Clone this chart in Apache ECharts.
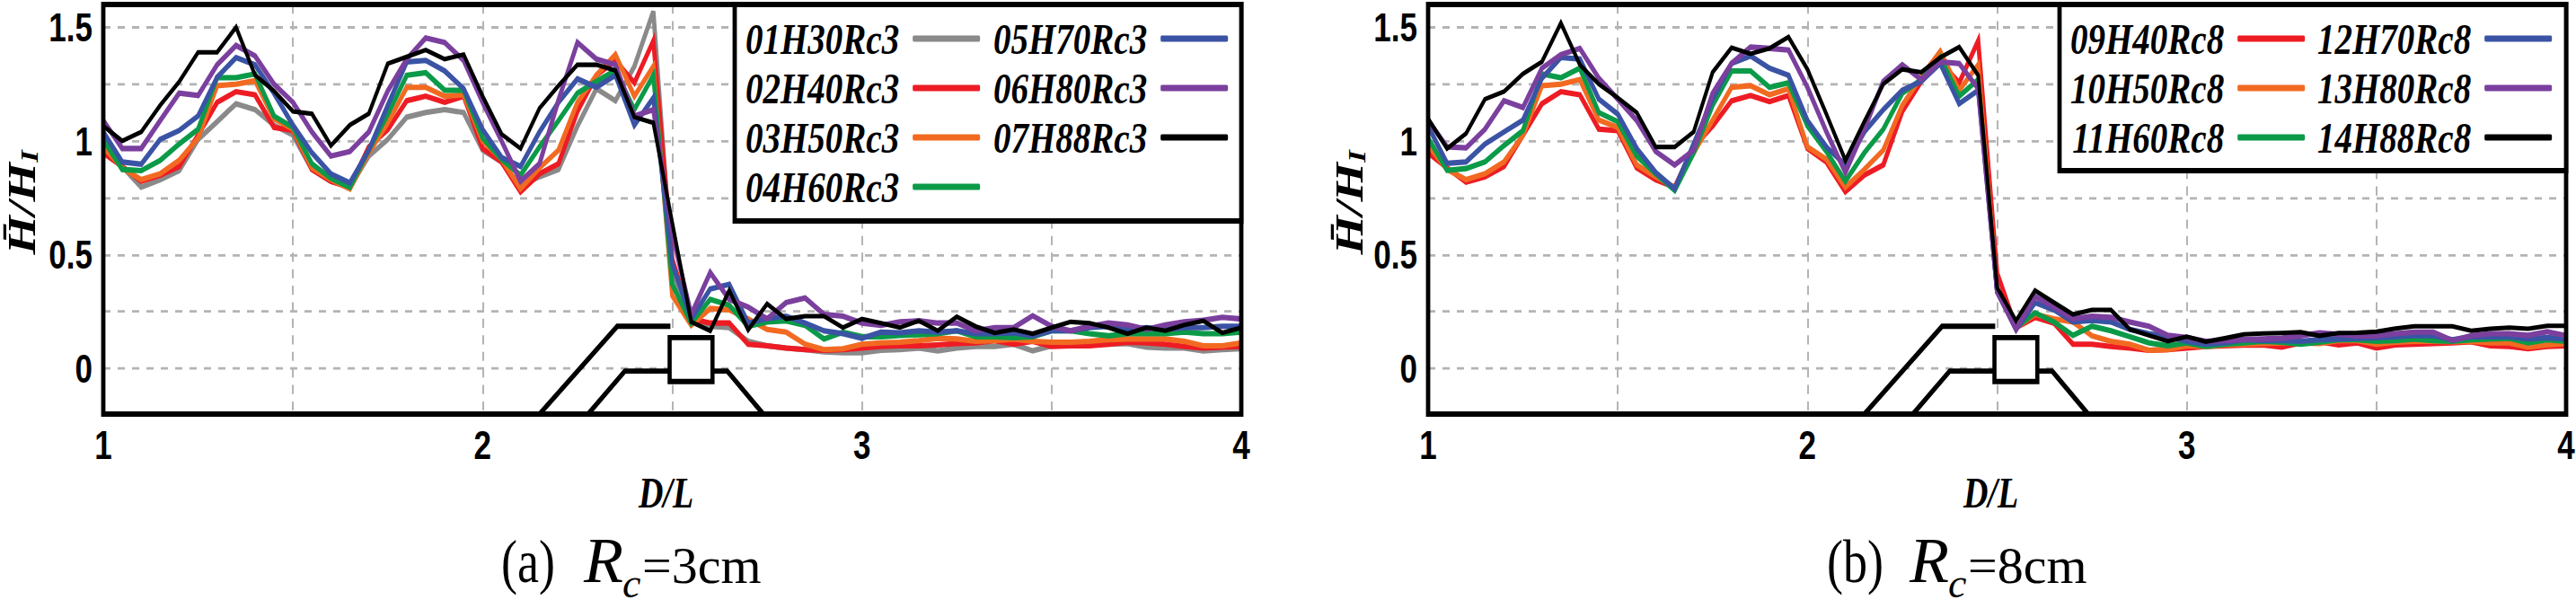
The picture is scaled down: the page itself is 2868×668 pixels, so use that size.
<!DOCTYPE html>
<html>
<head>
<meta charset="utf-8">
<title>H/HI along D/L</title>
<script src="https://cdn.jsdelivr.net/npm/echarts@6/dist/echarts.min.js"></script>
<style>
html,body{margin:0;padding:0;background:#fff;overflow:hidden;}
/* the figure is stretched vertically in the paper, text and lines alike */
#main{position:absolute;left:0;top:0;width:2868px;height:526px;transform:scale(1,1.26996);transform-origin:0 0;}
</style>
</head>
<body>
<div id="main"></div>
<script type="text/javascript">
var dL = [1,1.05,1.1,1.15,1.2,1.25,1.3,1.35,1.4,1.45,1.5,1.55,1.6,1.65,1.7,1.75,1.8,1.85,1.9,1.95,
  2,2.05,2.1,2.15,2.2,2.25,2.3,2.35,2.4,2.45,2.5,2.55,2.6,2.65,2.7,2.75,2.8,2.85,2.9,2.95,
  3,3.05,3.1,3.15,3.2,3.25,3.3,3.35,3.4,3.45,3.5,3.55,3.6,3.65,3.7,3.75,3.8,3.85,3.9,3.95,4];

// panel (a) Rc=3cm
var h30rc3 = [.948,.888,.797,.83,.87,1.007,1.085,1.164,1.138,1.07,1.026,.875,.823,.797,.934,1.007,1.105,1.125,1.138,1.125,.96,.908,.803,.843,.875,1.066,1.23,1.177,1.328,1.57,.42,.218,.186,.18,.12,.1,.09,.083,.074,.07,.07,.08,.083,.09,.078,.09,.097,.097,.107,.078,.1,.1,.107,.107,.11,.094,.09,.09,.078,.083,.087];
var h40rc3 = [.948,.888,.823,.85,.888,1.026,1.17,1.217,1.203,1.06,1.046,.875,.823,.797,.974,1.05,1.177,1.197,1.17,1.197,.967,.908,.777,.856,.9,1.13,1.289,1.354,1.256,1.44,.48,.218,.2,.2,.107,.1,.09,.083,.08,.083,.09,.097,.1,.1,.104,.11,.113,.123,.107,.12,.097,.1,.1,.107,.116,.113,.107,.097,.09,.094,.097];
var h50rc3 = [.974,.882,.83,.856,.915,1.013,1.243,1.25,1.265,1.098,1.052,.882,.83,.79,.948,1.08,1.236,1.236,1.197,1.203,1,.92,.79,.882,.96,1.17,1.289,1.38,1.197,1.328,.32,.19,.264,.258,.218,.172,.16,.107,.083,.087,.107,.113,.116,.123,.133,.13,.12,.123,.13,.12,.116,.116,.12,.127,.13,.13,.13,.12,.1,.1,.113];
var h60rc3 = [1.007,.875,.87,.915,.987,1.052,1.278,1.278,1.295,1.11,1.06,.9,.836,.797,.96,1.118,1.289,1.3,1.223,1.223,1.013,.92,.85,.974,1.09,1.21,1.262,1.31,1.138,1.289,.37,.2,.304,.278,.186,.205,.21,.19,.13,.16,.14,.14,.146,.149,.153,.166,.14,.14,.136,.14,.166,.166,.153,.144,.153,.153,.153,.16,.153,.153,.16];
var h70rc3 = [1.04,.908,.898,1.007,1.046,1.11,1.28,1.367,1.335,1.21,1.07,.948,.856,.816,.96,1.157,1.348,1.354,1.308,1.23,1.05,.928,.888,1.04,1.17,1.273,1.236,1.289,1.07,1.19,.46,.218,.35,.37,.2,.22,.23,.2,.166,.153,.133,.16,.157,.166,.16,.166,.153,.153,.157,.144,.166,.166,.18,.186,.172,.18,.172,.18,.18,.186,.186];
var h80rc3 = [1.09,.967,.967,1.09,1.21,1.2,1.335,1.42,1.374,1.25,1.17,1.04,.934,.954,1.04,1.22,1.36,1.453,1.433,1.354,1.17,1,.823,.9,1.18,1.433,1.36,1.335,1.11,1.138,.59,.238,.422,.304,.27,.218,.29,.31,.238,.23,.2,.19,.205,.21,.2,.2,.166,.18,.18,.232,.186,.166,.186,.2,.192,.172,.192,.205,.212,.225,.218];
var h88rc3 = [1.066,1,1.04,1.157,1.26,1.39,1.39,1.5,1.29,1.22,1.13,1.12,.98,1.07,1.12,1.34,1.37,1.4,1.36,1.38,1.197,1.03,.967,1.144,1.243,1.335,1.335,1.31,1.105,1.08,.64,.205,.166,.343,.17,.284,.218,.23,.23,.18,.218,.2,.18,.21,.166,.228,.185,.157,.172,.153,.18,.205,.2,.18,.153,.18,.166,.192,.21,.157,.18];

// panel (b) Rc=8cm
var h40rc8 = [.948,.882,.819,.843,.888,1.026,1.164,1.217,1.203,1.052,1.046,.882,.83,.797,.974,1.066,1.177,1.2,1.173,1.2,.967,.908,.777,.85,.895,1.13,1.262,1.348,1.256,1.44,.42,.18,.225,.2,.107,.107,.097,.09,.08,.083,.09,.097,.1,.103,.104,.094,.113,.118,.104,.113,.09,.104,.107,.11,.113,.118,.1,.097,.087,.097,.1];
var h50rc8 = [.98,.875,.83,.856,.908,1.026,1.243,1.25,1.27,1.092,1.06,.895,.843,.797,.948,1.092,1.236,1.243,1.203,1.23,.974,.92,.797,.875,.96,1.157,1.282,1.394,1.223,1.335,.34,.18,.238,.218,.205,.144,.12,.107,.08,.083,.1,.097,.104,.107,.11,.113,.113,.11,.123,.123,.107,.116,.12,.12,.118,.12,.113,.113,.094,.104,.11];
var h60rc8 = [1.013,.871,.879,.908,.98,1.046,1.295,1.278,1.32,1.125,1.085,.934,.856,.783,.948,1.157,1.308,1.308,1.236,1.256,1.066,.954,.823,.948,1.052,1.21,1.27,1.367,1.197,1.27,.337,.18,.245,.205,.146,.186,.166,.14,.113,.1,.113,.097,.107,.113,.12,.116,.107,.116,.127,.127,.12,.123,.13,.123,.12,.127,.13,.133,.113,.127,.12];
var h70rc8 = [1.066,.902,.908,.987,1.04,1.092,1.276,1.367,1.36,1.184,1.118,.967,.862,.79,.987,1.184,1.341,1.374,1.32,1.289,1.09,.974,.895,1.04,1.138,1.223,1.262,1.341,1.164,1.223,.337,.172,.29,.258,.205,.212,.205,.172,.153,.14,.12,.107,.113,.127,.123,.123,.12,.127,.13,.133,.136,.14,.146,.144,.127,.14,.14,.14,.13,.136,.13];
var h80rc8 = [1.09,.974,.97,1.052,1.177,1.147,1.32,1.38,1.407,1.276,1.184,1.09,.954,.895,.96,1.21,1.341,1.413,1.407,1.4,1.236,1.04,.862,1.052,1.262,1.335,1.27,1.348,1.341,1.23,.337,.172,.317,.27,.218,.23,.225,.205,.186,.146,.136,.12,.123,.127,.13,.133,.144,.157,.15,.144,.144,.153,.16,.16,.123,.144,.153,.153,.146,.162,.144];
var h88rc8 = [1.098,.967,1.033,1.184,1.217,1.295,1.348,1.518,1.335,1.25,1.19,1.125,.974,.974,1.04,1.302,1.41,1.383,1.407,1.457,1.315,1.118,.915,1.085,1.25,1.315,1.302,1.367,1.413,1.289,.356,.21,.343,.29,.238,.258,.258,.172,.146,.12,.14,.118,.133,.15,.154,.156,.16,.144,.156,.157,.162,.176,.186,.186,.186,.166,.175,.18,.175,.188,.188];

var namesA = ['01H30Rc3','02H40Rc3','03H50Rc3','04H60Rc3','05H70Rc3','06H80Rc3','07H88Rc3'];
var valuesA = [h30rc3,h40rc3,h50rc3,h60rc3,h70rc3,h80rc3,h88rc3];
var colorsA = ['#8a8a8a','#ed1c24','#f26a21','#0b9a48','#3a53a4','#7b3f9e','#000000'];
var namesB = ['09H40Rc8','10H50Rc8','11H60Rc8','12H70Rc8','13H80Rc8','14H88Rc8'];
var valuesB = [h40rc8,h50rc8,h60rc8,h70rc8,h80rc8,h88rc8];
var colorsB = ['#ed1c24','#f26a21','#0b9a48','#3a53a4','#7b3f9e','#000000'];

var yTicks = [0,0.25,0.5,0.75,1,1.25,1.5];
var yLabels = [0,0.5,1,1.5];

// breakwater sketch, in axis units
var outerDike = [[2.15,-0.2],[2.355,0.186],[2.495,0.186]];
var innerDike = [[2.278,-0.2],[2.375,-0.011],[2.495,-0.011]];
var leeDike = [[2.605,-0.011],[2.645,-0.011],[2.74,-0.2]];
var crownBox = [[2.493,0.136],[2.606,0.136],[2.606,-0.057],[2.493,-0.057]];

var S = 668 / 526;
function py(y) { return y / S; }  // page pixel -> chart pixel

var FRAME_TOP = 5, FRAME_H = 456;
var serifBI = {fontFamily:'Liberation Serif', fontStyle:'italic', fontWeight:'bold'};

function sketchSeries(idx) {
  return {
    type:'custom', xAxisIndex:idx, yAxisIndex:idx, silent:true, z:1, clip:false,
    data:[[2.5,0]],
    renderItem:function (params, api) {
      function pts(list) { return list.map(function (p) { return api.coord(p); }); }
      var line = {stroke:'#000', lineWidth:4.6, fill:null, lineJoin:'miter'};
      return {type:'group', children:[
        {type:'polyline', shape:{points:pts(outerDike)}, style:line},
        {type:'polyline', shape:{points:pts(innerDike)}, style:line},
        {type:'polyline', shape:{points:pts(leeDike)}, style:line},
        {type:'polygon', shape:{points:pts(crownBox)}, style:{stroke:'#000', lineWidth:4.6, fill:'#fff'}}
      ]};
    }
  };
}

function lineSeries(names, values, colors, idx) {
  return names.map(function (n, i) {
    return {
      name:n, type:'line', xAxisIndex:idx, yAxisIndex:idx, z:2,
      data:dL.map(function (x, k) { return [x, values[i][k]]; }),
      showSymbol:false, symbol:'none', smooth:false,
      color:colors[i],
      lineStyle:{color:colors[i], width:i === names.length - 1 ? 4 : 4.8, join:'miter'}
    };
  });
}

function legendCol(names, left) {
  return {
    data:names.map(function (n) { return {name:n, icon:'roundRect'}; }),
    orient:'vertical', align:'right', left:left, top:py(43) - 20, padding:0,
    itemWidth:75, itemHeight:5.6, itemGap:3.3, selectedMode:false, z:6,
    textStyle:{fontFamily:serifBI.fontFamily, fontStyle:'italic', fontWeight:'bold', fontSize:39, lineHeight:40, color:'#000', padding:[0,10,0,0]}
  };
}

function xAxis(idx) {
  return {
    type:'value', gridIndex:idx, min:1, max:4, interval:0.5,
    name:'D/L', nameLocation:'middle', nameGap:50,
    nameTextStyle:{fontFamily:serifBI.fontFamily, fontStyle:'italic', fontWeight:'bold', fontSize:38, color:'#000', padding:[0,14,0,0]},
    axisLine:{show:false}, axisTick:{show:false},
    axisLabel:{margin:10, color:'#000', fontFamily:'Liberation Sans', fontWeight:'bold', fontSize:35,
      formatter:function (v) { return v % 1 === 0 ? String(v) : ''; }},
    splitLine:{show:true, lineStyle:{color:'#b4b4b4', width:2, type:[8,6.5]}}
  };
}

function yAxis(idx) {
  return {
    type:'value', gridIndex:idx, min:-0.2, max:1.6,
    name:'H\u0304/H{sub|I}', nameLocation:'middle', nameGap:idx === 0 ? 69 : 66,
    nameTextStyle:{fontFamily:serifBI.fontFamily, fontStyle:'italic', fontWeight:'bold', fontSize:44, color:'#000', padding:[0,0,0,12],
      rich:{sub:{fontFamily:serifBI.fontFamily, fontStyle:'italic', fontWeight:'bold', fontSize:28, color:'#000', verticalAlign:'bottom', padding:[12,0,0,0]}}},
    axisLine:{show:false},
    axisTick:{show:false, customValues:yTicks},
    axisLabel:{margin:12, color:'#000', fontFamily:'Liberation Sans', fontWeight:'bold', fontSize:35, customValues:yLabels},
    splitLine:{show:true, lineStyle:{color:'#b4b4b4', width:2.2, type:[8,8]}}
  };
}

function legendBox(x, w, h) {
  return {type:'rect', z:4, shape:{x:x, y:py(FRAME_TOP), width:w, height:py(h)},
    style:{fill:'#fff', stroke:'#000', lineWidth:4.8}};
}

function capText(txt, x, y, size, italic, sy, lh) {
  return {type:'text', z:4, x:x, y:py(y), scaleY:sy,
    style:{text:txt, fill:'#000', fontFamily:'Liberation Serif', fontSize:size, lineHeight:lh || size, fontStyle:italic ? 'italic' : 'normal', align:'left', verticalAlign:'middle'}};
}

function caption(tag, val, dx) {
  return [
    capText(tag, 558 + dx, 625, 54, false, 1),
    capText('R', 650 + dx, 624, 72, true, 1 / S),
    capText('c', 693 + dx, 650, 46, true, 1 / S, 30),
    capText(val, 715 + dx, 630, 58, false, 1 / S)
  ];
}

var gridBase = {width:1267, top:py(FRAME_TOP), height:py(FRAME_H), show:true, z:3, borderWidth:4.8, borderColor:'#000', backgroundColor:'transparent', outerBoundsMode:'none'};

var option = {
  animation:false,
  backgroundColor:'#fff',
  grid:[
    Object.assign({left:115}, gridBase),
    Object.assign({left:1590}, gridBase)
  ],
  xAxis:[xAxis(0), xAxis(1)],
  yAxis:[yAxis(0), yAxis(1)],
  legend:[
    legendCol(namesA.slice(0,4), 830), legendCol(namesA.slice(4), 1106),
    legendCol(namesB.slice(0,3), 2305), legendCol(namesB.slice(3), 2580)
  ],
  series:[sketchSeries(0), sketchSeries(1)]
    .concat(lineSeries(namesA, valuesA, colorsA, 0))
    .concat(lineSeries(namesB, valuesB, colorsB, 1)),
  graphic:[legendBox(818, 564, 241), legendBox(2293, 564, 185)]
    .concat(caption('(a)', '=3cm', 0))
    .concat(caption('(b)', '=8cm', 1476))
};

var myChart = echarts.init(document.getElementById('main'), null, {renderer:'svg'});
myChart.setOption(option);
</script>
</body>
</html>
